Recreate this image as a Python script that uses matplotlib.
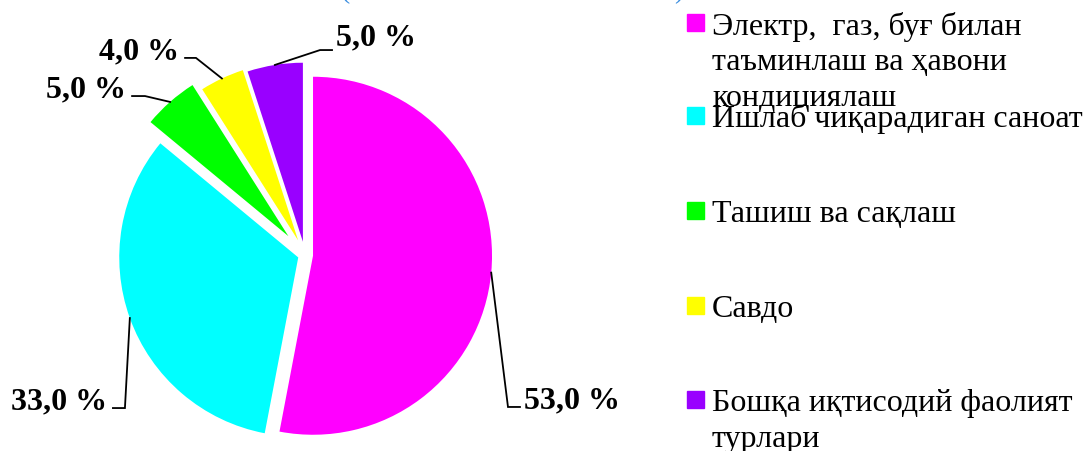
import numpy as np
import matplotlib
matplotlib.use("Agg")
import matplotlib.pyplot as plt
from matplotlib.patches import Rectangle

# ==============================
# DATA
# ==============================

labels = [
    "Электр,  газ, буғ билан\nтаъминлаш ва ҳавони\nкондициялаш",
    "Ишлаб чиқарадиган саноат",
    "Ташиш ва сақлаш",
    "Савдо",
    "Бошқа иқтисодий фаолият\nтурлари",
]
values = [53.0, 33.0, 5.0, 4.0, 5.0]
colors = ["#FF00FF", "#00FFFF", "#00FF00", "#FFFF00", "#9900FF"]
explode = [0.045, 0.04, 0.14, 0.09, 0.075]

# ==============================
# LAYOUT (pixels of a 1083x452 figure)
# ==============================

W, H = 1083, 452
CX, CY, R = 305, 256, 179      # pie centre and radius in pixels

# label elbow / line end, in pie units
elbows = [(1.134, -0.849), (-1.006, -0.855), (-0.894, 0.888), (-0.609, 1.101), (0.084, 1.145)]
ends = [(1.201, -0.849), (-1.073, -0.855), (-0.966, 0.888), (-0.670, 1.101), (0.151, 1.145)]
text_dy = [-0.003, -0.003, 0.0, 0.0, 0.034]

plt.rcParams["font.family"] = ["Liberation Serif", "DejaVu Serif"]

fig = plt.figure(figsize=(W / 100, H / 100), dpi=100)
ax = fig.add_axes([0, 0, (2 * CX) / W, 1])

wedges, _ = ax.pie(values, colors=colors, explode=explode, startangle=90,
                   counterclock=False, radius=1.0,
                   wedgeprops=dict(linewidth=0))

ax.set_aspect("auto")
ax.set_xlim(-CX / R, CX / R)
ax.set_ylim(-(H - CY) / R, CY / R)
ax.axis("off")

# percentage labels with leader lines
for w, v, el, en, dy in zip(wedges, values, elbows, ends, text_dy):
    mid = np.deg2rad((w.theta1 + w.theta2) / 2)
    ax_x = w.center[0] + w.r * np.cos(mid)
    ax_y = w.center[1] + w.r * np.sin(mid)
    ax.plot([ax_x, el[0], en[0]], [ax_y, el[1], en[1]], color="black", lw=1.3,
            solid_joinstyle="miter", clip_on=False)
    right = en[0] > el[0]
    gap = 0.02 if right else -0.035
    txt = f"{v:.1f}".replace(".", ",") + " %"
    ax.text(en[0] + gap, en[1] + dy, txt, ha="left" if right else "right",
            va="baseline", fontsize=23, fontweight="bold")

# legend drawn by hand (text hangs below each square like the original)
sq_top = [15, 108, 203, 298, 392]
line_h = 36
for lab, col, top in zip(labels, colors, sq_top):
    fig.patches.append(Rectangle((687 / W, 1 - (top + 17) / H), 17 / W, 17 / H,
                                 transform=fig.transFigure, color=col))
    for i, line in enumerate(lab.split("\n")):
        base = top + 8.5 + 11 + i * line_h
        fig.text(712 / W, 1 - base / H, line, fontsize=23,
                 va="baseline", ha="left")

# bottom of the cut-off title's brackets
fig.text(341 / W, 1 + 2 / H, "(", color="#3d8fe0", fontsize=20, va="baseline")
fig.text(674 / W, 1 + 2 / H, ")", color="#3d8fe0", fontsize=20, va="baseline")

fig.savefig("out.png", dpi=100)
